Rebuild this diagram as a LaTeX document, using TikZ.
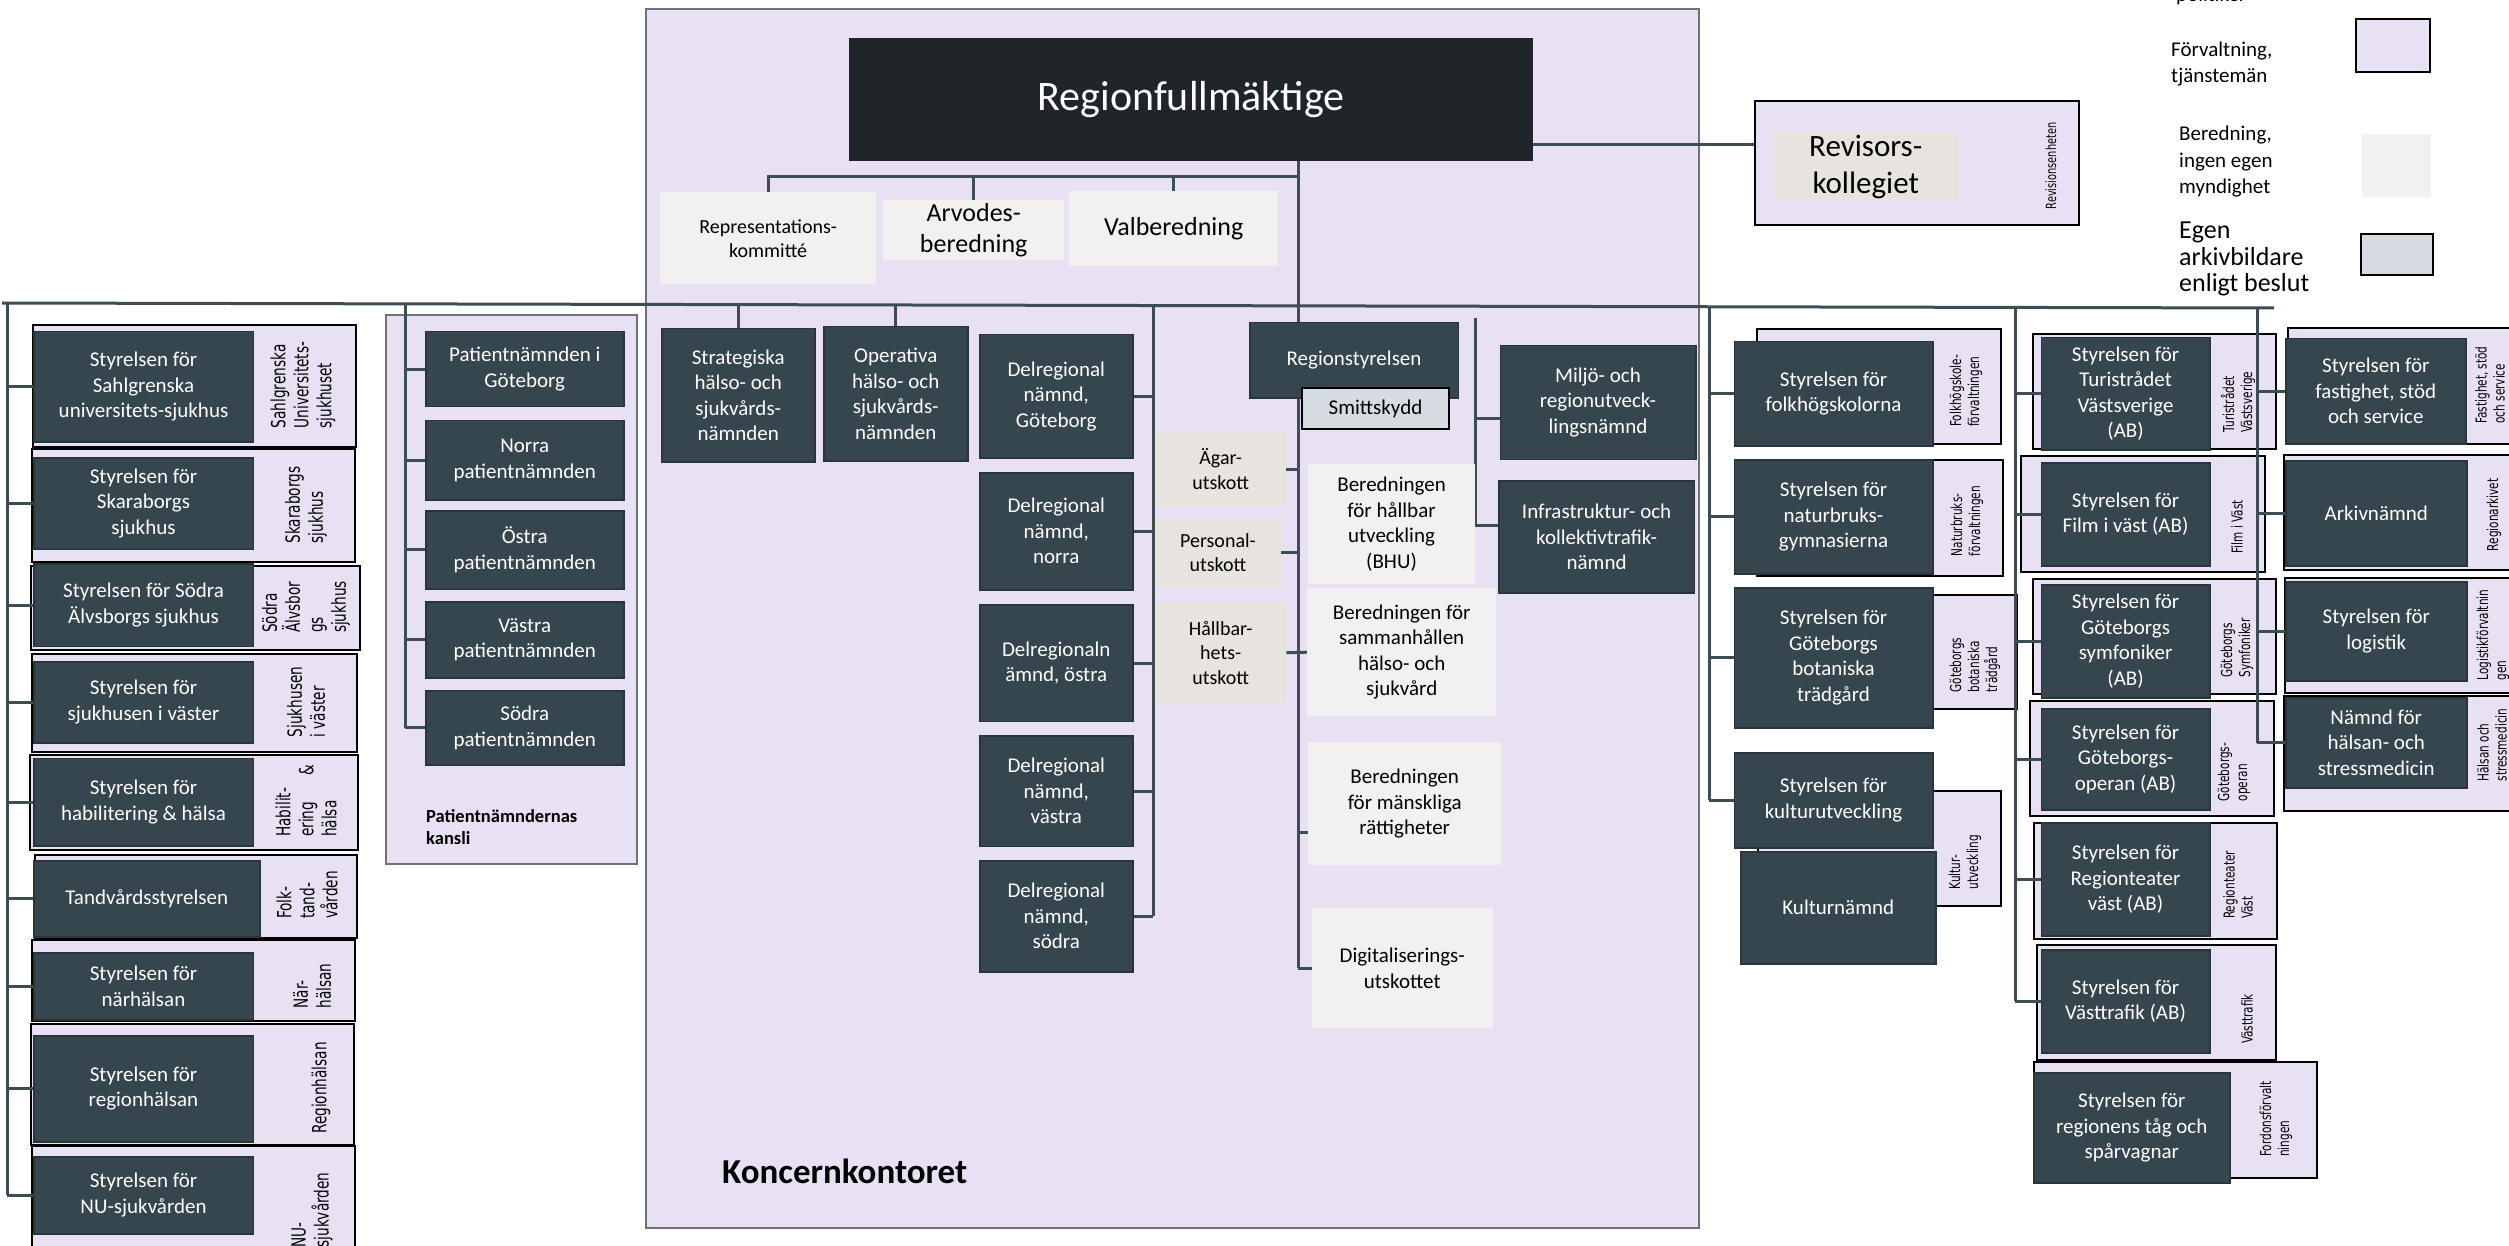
\documentclass[tikz,border=0pt]{standalone}
\usepackage{fontspec}
\setmainfont{Carlito}
\newfontfamily\sidefont[FakeStretch=0.7]{DejaVu Sans}
\usetikzlibrary{calc}
\pgfdeclarelayer{bg}
\pgfdeclarelayer{mid}
\pgfsetlayers{bg,mid,main}
\definecolor{cLav}{HTML}{E8E1F3}
\definecolor{cDk}{HTML}{36464F}
\definecolor{cDkb}{HTML}{29353B}
\definecolor{cRf}{HTML}{1F2528}
\definecolor{cLt}{HTML}{F2F1F0}
\definecolor{cWm}{HTML}{E7E3DF}
\definecolor{cSm}{HTML}{D6DCE2}
\definecolor{cLn}{HTML}{3E4C54}
\definecolor{cGrb}{HTML}{6D7378}
\tikzset{
 boxBase/.style={rectangle, inner sep=0pt, align=center, font=\fontsize{21}{25.5}\selectfont},
 boxDark/.style={boxBase, fill=cDk, draw=cDkb, line width=1.5pt, text=white},
 rfBox/.style={boxBase, fill=cRf, text=white, font=\fontsize{42}{48}\selectfont},
 boxLight/.style={boxBase, fill=cLt},
 boxWarm/.style={boxBase, fill=cWm, font=\fontsize{20}{24.5}\selectfont},
 smBox/.style={boxBase, fill=cSm, draw=black, line width=2pt},
 boxOuter/.style={rectangle, inner sep=0pt, fill=cLav, draw=black, line width=2.2pt},
 grpBox/.style={rectangle, inner sep=0pt, fill=cLav, draw=cGrb, line width=2pt},
 conn/.style={draw=cLn, line width=3pt},
 sideL/.style={rotate=90, align=left, inner sep=0pt, font=\sidefont\fontsize{19.5}{23}\selectfont},
 sideS/.style={rotate=90, align=left, inner sep=0pt, font=\sidefont\fontsize{15}{18}\selectfont},
 lgText/.style={anchor=west, align=left, inner sep=0pt, font=\fontsize{21}{26.5}\selectfont},
}
\newcommand\bx[7]{%
 \pgfmathsetmacro\mybw{#5-#3}\pgfmathsetmacro\mybh{#6-#4}%
 \node[#1, anchor=north west, minimum width=\mybw pt, minimum height=\mybh pt] (#2) at (#3,#4) {#7};}
\begin{document}
\begin{tikzpicture}[x=1pt,y=-1pt]
\useasboundingbox (0,0) rectangle (2509,1246);

% ---------- background layer: groups and outer boxes ----------
\begin{pgfonlayer}{bg}
\fill[white] (0,0) rectangle (2509,1246);
\bx{grpBox}{KK}{645}{8}{1698}{1227}{}
\bx{grpBox}{PG}{385}{314}{636}{863}{}

\bx{boxOuter}{oSU}{31.6}{324}{355}{446}{}
\bx{boxOuter}{oSK}{30.7}{448}{353.5}{561}{}
\bx{boxOuter}{oSA}{29.5}{565}{359}{649}{}
\bx{boxOuter}{oSV}{30.7}{653}{355.6}{750.5}{}
\bx{boxOuter}{oHAB}{28.6}{754}{357}{848.5}{}
\bx{boxOuter}{oTAND}{33.7}{853.7}{355.6}{937}{}
\bx{boxOuter}{oNH}{30.7}{939}{353.5}{1020}{}
\bx{boxOuter}{oRH}{29.5}{1022.7}{352.7}{1144}{}
\bx{boxOuter}{oNU}{30.7}{1145}{353.5}{1260}{}

\bx{boxOuter}{oFO}{1756}{328}{2000}{443}{}
\bx{boxOuter}{oNA}{1756}{459}{2002}{575}{}
\bx{boxOuter}{oBO}{1757}{594}{2016}{708}{}
\bx{boxOuter}{oKU}{1757}{790}{2000}{905}{}
\bx{boxOuter}{oTU}{2032}{333}{2275}{448}{}
\bx{boxOuter}{oFI}{2020}{455}{2263.5}{571}{}
\bx{boxOuter}{oSY}{2032}{578}{2275}{693}{}
\bx{boxOuter}{oOP}{2029}{700}{2273}{815}{}
\bx{boxOuter}{oRT}{2033}{822}{2276}{938}{}
\bx{boxOuter}{oVT}{2036}{944}{2275}{1059}{}
\bx{boxOuter}{oTA}{2033}{1061}{2316}{1177}{}
\bx{boxOuter}{oFA}{2287}{327}{2520}{443}{}
\bx{boxOuter}{oAR}{2283}{454}{2520}{569}{}
\bx{boxOuter}{oLO}{2284}{577}{2520}{692}{}
\bx{boxOuter}{oHA}{2283}{695}{2520}{810}{}
\bx{boxOuter}{oREV}{1754}{100}{2078}{224}{}

% side labels
\node[sideL] (sSU) at (303,385) {Sahlgrenska\\Universitets-\\sjukhuset};
\node[sideL] (sSK) at (306,505) {Skaraborgs\\sjukhus};
\node[sideL] (sSA) at (306,607) {Södra\\Älvsbor\\gs\\sjukhus};
\node[sideL] (sSV) at (306,702) {Sjukhusen\\i väster};
\node[sideL] (sHAB) at (306,801) {Habilit-\\ering\hspace{26pt}\&\\hälsa};
\node[sideL] (sTAND) at (307,895) {Folk-\\tand-\\vården};
\node[sideL] (sNH) at (312,986) {När-\\hälsan};
\node[sideL] (sRH) at (321,1088) {Regionhälsan};
\node[sideL] (sNU) at (312,1210) {NU-\\sjukvården};

\node[sideS] (sFO) at (1966,391) {Folkhögskole-\\förvaltningen};
\node[sideS] (sNA) at (1967,521) {Naturbruks-\\förvaltningen};
\node[sideS] (sBO) at (1975,665) {Göteborgs\\botaniska\\trädgård};
\node[sideS] (sKU) at (1965,862) {Kultur-\\utveckling};
\node[sideS] (sTU) at (2238,402) {Turistrådet\\Västsverige};
\node[sideS] (sFI) at (2237,527) {Film i Väst};
\node[sideS] (sSY) at (2237,648) {Göteborgs\\Symfoniker};
\node[sideS] (sOP) at (2234,772) {Göteborgs-\\operan};
\node[sideS] (sRT) at (2238,885) {Regionteater\\Väst};
\node[sideS] (sVT) at (2247,1019) {Västtrafik};
\node[sideS] (sTA) at (2276,1119) {Fordonsförvalt\\ningen};
\node[sideS] (sFA) at (2490,385) {Fastighet, stöd\\och service};
\node[sideS] (sAR) at (2494,515) {Regionarkivet};
\node[sideS] (sLO) at (2493,635) {Logistikförvaltnin\\gen};
\node[sideS] (sHA) at (2492,745) {Hälsan och\\stressmedicin};
\node[sideS, font=\sidefont\fontsize{14}{16}\selectfont] (sREV) at (2051,166) {Revisionsenheten};

% legend
\node[anchor=base west, inner sep=0pt, font=\fontsize{21}{25}\selectfont] (lgP) at (2176,2) {politiker};
\node[lgText, font=\fontsize{21}{25.5}\selectfont] (lgF) at (2171,64) {Förvaltning,\\tjänstemän};
\bx{boxOuter}{lgFb}{2355}{18}{2429}{71}{}
\node[lgText] (lgB) at (2179,162) {Beredning,\\ingen egen\\myndighet};
\bx{boxLight}{lgBb}{2362}{134}{2431}{197}{}
\node[lgText, font=\fontsize{26}{26.5}\selectfont] (lgE) at (2179,259) {Egen\\arkivbildare\\enligt beslut};
\bx{smBox}{lgEb}{2360}{233}{2432}{274}{}
\end{pgfonlayer}

% ---------- main layer: boxes ----------
\bx{boxDark}{SU}{33}{331}{252.5}{441}{Styrelsen för\\Sahlgrenska\\universitets-sjukhus}
\bx{boxDark}{SK}{33}{457}{252.5}{548}{Styrelsen för\\Skaraborgs\\sjukhus}
\bx{boxDark}{SA}{33}{563}{252.5}{645.6}{Styrelsen för Södra\\Älvsborgs sjukhus}
\bx{boxDark}{SV}{33}{661}{252.5}{742}{Styrelsen för\\sjukhusen i väster}
\bx{boxDark}{HAB}{33}{757.5}{252.5}{845}{Styrelsen för\\habilitering \& hälsa}
\bx{boxDark}{TAND}{33}{860}{259}{936}{Tandvårdsstyrelsen}
\bx{boxDark}{NH}{33}{952}{252.5}{1019}{Styrelsen för\\närhälsan}
\bx{boxDark}{RH}{33}{1035}{252.5}{1141}{Styrelsen för\\regionhälsan}
\bx{boxDark}{NU}{33}{1156}{252.5}{1233}{Styrelsen för\\NU-sjukvården}

\bx{boxDark}{PN1}{425}{331}{623}{406}{Patientnämnden i\\Göteborg}
\bx{boxDark}{PN2}{425}{420}{623}{499}{Norra\\patientnämnden}
\bx{boxDark}{PN3}{425}{510}{623}{588}{Östra\\patientnämnden}
\bx{boxDark}{PN4}{425}{601}{623}{677}{Västra\\patientnämnden}
\bx{boxDark}{PN5}{425}{690}{623}{764}{Södra\\patientnämnden}
\node[anchor=west, align=left, inner sep=0pt, font=\bfseries\fontsize{18.5}{22.5}\selectfont] (PNK) at (426,827) {Patientnämndernas\\kansli};

\bx{rfBox}{RF}{849}{38}{1533}{161}{Regionfullmäktige}
\bx{boxLight,font=\fontsize{20}{24}\selectfont}{REP}{660}{192}{876}{284}{Representations-\\kommitté}
\bx{boxLight,font=\fontsize{26}{30.5}\selectfont}{ARV}{883}{200}{1064}{260}{Arvodes-\\beredning}
\bx{boxLight,font=\fontsize{26}{30.5}\selectfont}{VAL}{1069}{191}{1278}{266}{Valberedning}
\bx{boxDark}{STR}{661}{328}{814}{461}{Strategiska\\hälso- och\\sjukvårds-\\nämnden}
\bx{boxDark}{OPE}{823}{326}{967}{460}{Operativa\\hälso- och\\sjukvårds-\\nämnden}
\bx{boxDark}{DG}{979}{334}{1132}{457}{Delregional\\nämnd,\\Göteborg}
\bx{boxDark}{DN}{979}{472}{1132}{589}{Delregional\\nämnd,\\norra}
\bx{boxDark}{DO}{979}{604}{1132}{720.5}{Delregionaln\\ämnd, östra}
\bx{boxDark}{DV}{979}{735}{1132}{845.5}{Delregional\\nämnd,\\västra}
\bx{boxDark}{DS}{979}{860}{1132}{971}{Delregional\\nämnd,\\södra}
\bx{boxDark}{RS}{1249}{322}{1457.5}{397.5}{Regionstyrelsen}
\bx{smBox}{SMI}{1301}{387}{1448}{428}{Smittskydd}
\bx{boxWarm}{AGA}{1155}{432}{1286}{506}{Ägar-\\utskott}
\bx{boxWarm}{PER}{1155}{518}{1280.5}{587}{Personal-\\utskott}
\bx{boxWarm}{HAL}{1155}{602}{1286}{703}{Hållbar-\\hets-\\utskott}
\bx{boxLight}{BHU}{1308}{464}{1474.7}{583.5}{Beredningen\\för hållbar\\utveckling\\(BHU)}
\bx{boxLight}{BSH}{1307}{588}{1496}{716}{Beredningen för\\sammanhållen\\hälso- och\\sjukvård}
\bx{boxLight}{BMR}{1308}{742}{1501}{865}{Beredningen\\för mänskliga\\rättigheter}
\bx{boxLight}{DIG}{1311.5}{908}{1492.6}{1028}{Digitaliserings-\\utskottet}
\bx{boxDark}{MIL}{1499.5}{344.6}{1695}{458.5}{Miljö- och\\regionutveck-\\lingsnämnd}
\bx{boxDark}{INF}{1498}{480}{1693.7}{592.4}{Infrastruktur- och\\kollektivtrafik-\\nämnd}
\node[anchor=west, inner sep=0pt, font=\bfseries\fontsize{35}{40}\selectfont] (KKL) at (722,1171) {Koncernkontoret};

\bx{boxWarm,font=\fontsize{31}{37}\selectfont}{REVK}{1773}{132}{1958}{201}{Revisors-\\kollegiet}

\bx{boxDark}{FO}{1733.5}{341}{1932}{445}{Styrelsen för\\folkhögskolorna}
\bx{boxDark}{NA}{1733.5}{459}{1932}{573}{Styrelsen för\\naturbruks-\\gymnasierna}
\bx{boxDark}{BO}{1733.5}{587}{1932}{727}{Styrelsen för\\Göteborgs\\botaniska\\trädgård}
\bx{boxDark}{KU}{1733.5}{752}{1932}{847}{Styrelsen för\\kulturutveckling}
\bx{boxDark}{KN}{1740}{851}{1935}{963}{Kulturnämnd}
\bx{boxDark}{TU}{2040.6}{337}{2209}{449}{Styrelsen för\\Turistrådet\\Västsverige\\(AB)}
\bx{boxDark}{FI}{2040.6}{462}{2209}{565}{Styrelsen för\\Film i väst (AB)}
\bx{boxDark}{SY}{2040.6}{584}{2209}{697}{Styrelsen för\\Göteborgs\\symfoniker\\(AB)}
\bx{boxDark}{OP}{2040.6}{708}{2209}{809}{Styrelsen för\\Göteborgs-\\operan (AB)}
\bx{boxDark}{RT}{2040.6}{822}{2209}{935}{Styrelsen för\\Regionteater\\väst (AB)}
\bx{boxDark}{VT}{2040.6}{949}{2209}{1052}{Styrelsen för\\Västtrafik (AB)}
\bx{boxDark}{TA}{2033}{1072}{2229}{1182}{Styrelsen för\\regionens tåg och\\spårvagnar}
\bx{boxDark}{FA}{2285}{338}{2465}{443}{Styrelsen för\\fastighet, stöd\\och service}
\bx{boxDark}{AR}{2285}{460}{2466}{565}{Arkivnämnd}
\bx{boxDark}{LO}{2285}{581}{2466}{680}{Styrelsen för\\logistik}
\bx{boxDark}{HA}{2285}{697}{2466}{787}{Nämnd för\\hälsan- och\\stressmedicin}

% ---------- middle layer: connectors ----------
\begin{pgfonlayer}{mid}
\coordinate (busL) at (2,303);
\coordinate (busR) at (2274,308);
\coordinate (bus) at (0,305);
\coordinate (cbus) at (0,177);
\coordinate (rv) at (0,145);
\coordinate (lt) at (7,303);
\coordinate (pt) at (405,304);
\coordinate (dt) at (1153,305);
\coordinate (tr) at (1298,0);
\coordinate (rsv) at (1475,318);
\coordinate (ca) at (1709,307);
\coordinate (cb) at (2015,307);
\coordinate (cc) at (2257,308);

\draw[conn] (busL) -- (busR);
\draw[conn] (lt) -- (lt |- NU.west);
\foreach \n in {SU,SK,SA,SV,HAB,TAND,NH,RH,NU} \draw[conn] (lt |- \n.west) -- (\n.west);
\draw[conn] (pt) -- (pt |- PN5.west);
\foreach \n in {PN1,PN2,PN3,PN4,PN5} \draw[conn] (pt |- \n.west) -- (\n.west);
\draw[conn] (STR.north |- bus) -- (STR.north);
\draw[conn] (OPE.north |- bus) -- (OPE.north);
\draw[conn] (dt) -- (dt |- DS.east);
\foreach \n in {DG,DN,DO,DV,DS} \draw[conn] (\n.east) -- (dt |- \n.east);
\draw[conn] (RF.south -| tr) -- (tr |- DIG.west);
\draw[conn] (REP.north) -- (REP.north |- cbus) -- (cbus -| tr);
\draw[conn] (ARV.north) -- (ARV.north |- cbus);
\draw[conn] (VAL.north) -- (VAL.north |- cbus);
\draw[conn] (RF.east |- rv) -- (oREV.west |- rv);
\draw[conn] (AGA.east) -- (AGA.east -| tr);
\draw[conn] (PER.east) -- (PER.east -| tr);
\draw[conn] (HAL.east) -- (BSH.west);
\coordinate (bm) at ($(BMR.west)+(0,29)$);
\draw[conn] (bm -| tr) -- (bm);
\draw[conn] (DIG.west -| tr) -- (DIG.west);
\coordinate (mi) at ($(MIL.west)+(0,16)$);
\coordinate (inf) at ($(INF.west)+(0,-11)$);
\draw[conn] (rsv) -- (rsv |- inf) -- (inf);
\draw[conn] (rsv |- mi) -- (mi);
\draw[conn] (ca) -- (ca |- KU.west);
\foreach \n in {FO,NA,BO,KU} \draw[conn] (ca |- \n.west) -- (\n.west);
\draw[conn] (cb) -- (cb |- VT.west);
\foreach \n in {TU,FI,SY,OP,RT,VT} \draw[conn] (cb |- \n.west) -- (\n.west);
\draw[conn] (cc) -- (cc |- HA.west);
\foreach \n in {FA,AR,LO,HA} \draw[conn] (cc |- \n.west) -- (\n.west);
\end{pgfonlayer}
\end{tikzpicture}
\end{document}
